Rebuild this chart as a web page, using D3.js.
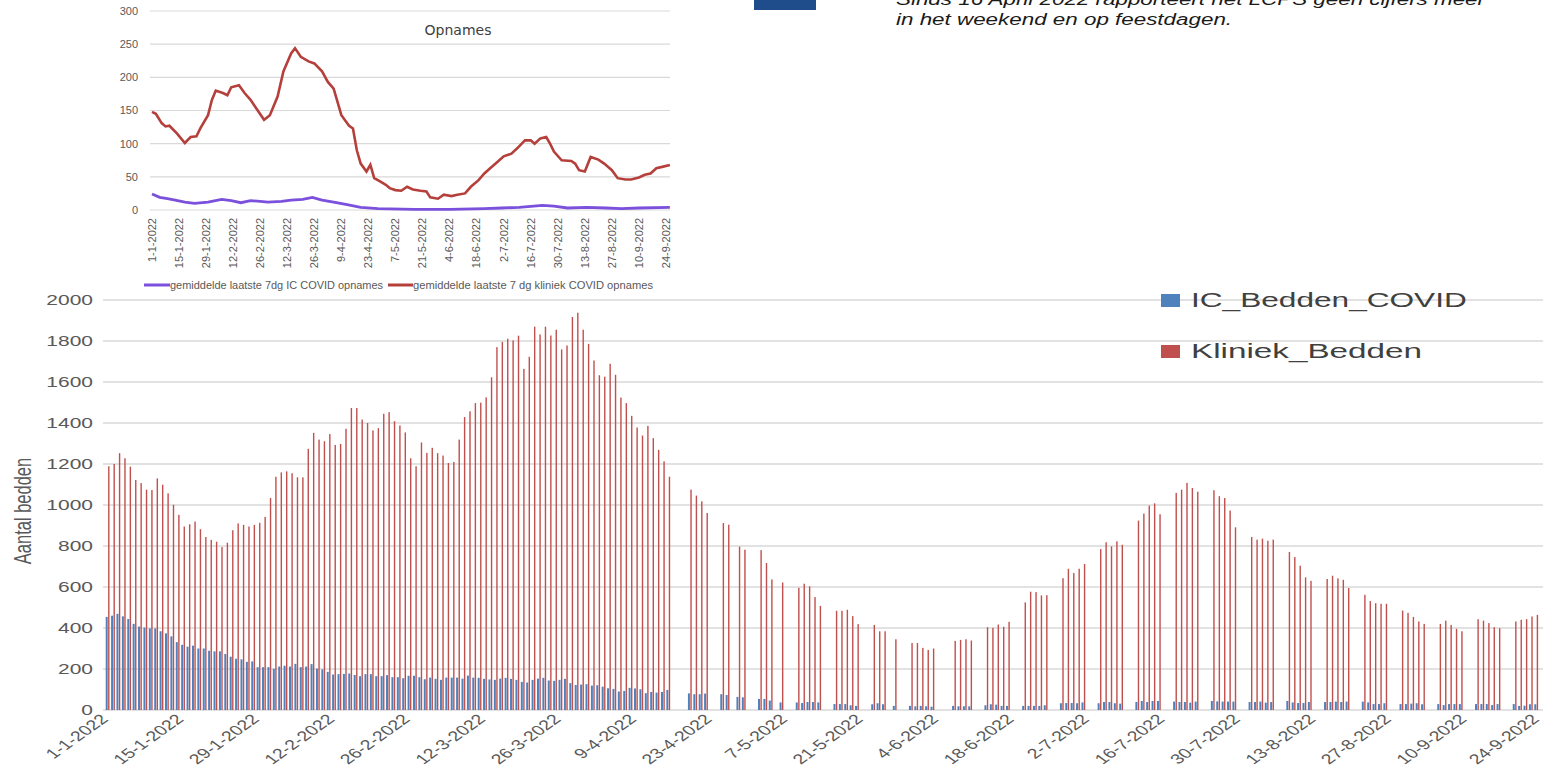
<!DOCTYPE html>
<html>
<head>
<meta charset="utf-8">
<script src="https://cdn.jsdelivr.net/npm/d3@7"></script>
<style>
  body { margin: 0; background: #fff; }
  svg text { font-family: "Liberation Sans", Arial, sans-serif; }
</style>
</head>
<body>
<div id="chart"></div>
<script>
(function () {

// ---------- data ----------
// date axis labels (both charts)
const tickLabels = ["1-1-2022","15-1-2022","29-1-2022","12-2-2022","26-2-2022","12-3-2022","26-3-2022",
  "9-4-2022","23-4-2022","7-5-2022","21-5-2022","4-6-2022","18-6-2022","2-7-2022","16-7-2022",
  "30-7-2022","13-8-2022","27-8-2022","10-9-2022","24-9-2022"];

// beds, one value per day from 1-1-2022, rows are weeks Sat..Fri (null = no report)
const kliniekBedden = [
  1189,1200,1253,1228,1187,1122,1107,
  1075,1073,1130,1099,1057,1001,952,
  895,906,919,882,844,830,821,
  795,816,877,910,903,895,903,
  913,942,1034,1138,1159,1164,1155,
  1135,1135,1274,1352,1319,1311,1346,
  1293,1298,1372,1473,1473,1417,1400,
  1364,1375,1445,1453,1409,1388,1354,
  1228,1189,1305,1254,1279,1253,1241,
  1205,1210,1319,1429,1457,1497,1499,
  1525,1623,1770,1796,1811,1803,1826,
  1664,1723,1870,1832,1870,1827,1855,
  1759,1778,1917,1938,1855,1786,1705,
  1633,1626,1689,1635,1524,1497,1435,
  1378,1339,1386,1326,1269,1213,1138,
  null,null,null,1075,1046,1018,961,
  null,null,912,904,null,797,782,
  null,null,780,717,637,null,622,
  null,null,596,616,603,551,508,
  null,null,484,484,489,458,419,
  null,null,415,384,384,null,345,
  null,null,327,327,303,293,300,
  null,null,null,337,342,345,339,
  null,null,404,401,417,406,430,
  null,null,525,577,575,559,560,
  null,null,643,689,668,689,712,
  null,null,785,818,798,823,806,
  null,null,924,958,997,1008,955,
  null,null,1059,1075,1108,1083,1065,
  null,null,1072,1043,1034,973,891,
  null,null,844,831,836,826,831,
  null,null,771,746,704,647,630,
  null,null,639,655,642,635,595,
  null,null,562,531,521,518,518,
  null,null,485,474,454,432,420,
  null,null,420,436,415,396,384,
  null,null,443,436,424,404,399,
  null,null,432,440,443,456,464
];

const icBedden = [
  454,460,469,457,444,420,407,
  402,398,398,384,374,359,331,
  318,309,314,300,300,289,286,
  286,273,260,250,247,235,237,
  209,209,209,201,212,216,212,
  225,209,212,224,202,198,186,
  173,175,176,178,171,165,175,
  175,165,165,170,160,160,155,
  167,167,160,150,158,152,147,
  158,158,158,153,168,158,157,
  152,149,147,153,157,152,147,
  137,134,147,153,157,144,142,
  147,152,131,122,124,126,119,
  121,114,106,103,90,93,108,
  105,101,82,88,85,88,98,
  null,null,null,81,77,77,80,
  null,null,77,73,null,64,62,
  null,null,54,54,46,null,37,
  null,null,37,34,39,39,37,
  null,null,29,29,29,23,20,
  null,null,28,33,28,null,20,
  null,null,20,18,20,18,16,
  null,null,null,20,18,18,18,
  null,null,23,28,26,20,20,
  null,null,20,20,20,20,23,
  null,null,33,34,34,33,37,
  null,null,33,39,39,33,31,
  null,null,39,44,39,44,44,
  null,null,41,39,39,36,41,
  null,null,44,42,41,41,41,
  null,null,39,39,41,36,39,
  null,null,44,37,34,34,39,
  null,null,39,39,41,39,41,
  null,null,41,37,29,29,33,
  null,null,29,29,31,33,28,
  null,null,29,24,29,29,29,
  null,null,29,29,29,24,29,
  null,null,29,20,21,28,28
];

// inset "Opnames": 7-day averages, read at irregular dates
const kliniekDates = ["2022-01-01","2022-01-03","2022-01-06","2022-01-08","2022-01-10","2022-01-14","2022-01-18",
  "2022-01-21","2022-01-24","2022-01-26","2022-01-30","2022-02-01","2022-02-03","2022-02-07","2022-02-09",
  "2022-02-11","2022-02-15","2022-02-18","2022-02-21","2022-02-24","2022-02-28","2022-03-03","2022-03-07",
  "2022-03-10","2022-03-14","2022-03-16","2022-03-19","2022-03-23","2022-03-26","2022-03-30","2022-04-02",
  "2022-04-05","2022-04-07","2022-04-09","2022-04-13","2022-04-15","2022-04-17","2022-04-19","2022-04-22",
  "2022-04-24","2022-04-26","2022-04-29","2022-05-02","2022-05-04","2022-05-07","2022-05-10","2022-05-13",
  "2022-05-16","2022-05-20","2022-05-23","2022-05-25","2022-05-29","2022-06-01","2022-06-05","2022-06-08",
  "2022-06-12","2022-06-15","2022-06-19","2022-06-22","2022-06-25","2022-06-29","2022-07-02","2022-07-06",
  "2022-07-09","2022-07-13","2022-07-16","2022-07-18","2022-07-21","2022-07-24","2022-07-26","2022-07-28",
  "2022-08-01","2022-08-06","2022-08-08","2022-08-10","2022-08-13","2022-08-16","2022-08-20","2022-08-23",
  "2022-08-27","2022-08-30","2022-09-03","2022-09-06","2022-09-10","2022-09-13","2022-09-16","2022-09-19",
  "2022-09-22","2022-09-26"];
const kliniekOpnames = [148,145,131,126,127,115,101,110,111,123,143,166,180,176,173,185,188,176,166,153,
  136,143,171,209,236,244,231,224,221,209,193,183,163,143,127,123,90,70,58,68,48,43,38,33,30,29,35,31,
  29,28,19,17,23,21,23,25,35,45,55,63,73,81,85,93,105,105,100,108,110,100,88,75,74,70,60,58,80,76,70,
  60,48,46,46,49,53,55,63,65,68];

const icDates = ["2022-01-01","2022-01-05","2022-01-09","2022-01-13","2022-01-18","2022-01-23","2022-01-30",
  "2022-02-06","2022-02-11","2022-02-16","2022-02-21","2022-02-26","2022-03-02","2022-03-09","2022-03-14",
  "2022-03-20","2022-03-25","2022-03-30","2022-04-05","2022-04-12","2022-04-19","2022-04-28","2022-05-17",
  "2022-06-04","2022-06-22","2022-07-01","2022-07-10","2022-07-22","2022-07-28","2022-08-04","2022-08-14",
  "2022-08-24","2022-09-01","2022-09-10","2022-09-26"];
const icOpnames = [24,19,17,15,12,10,12,16,14,11,14,13,12,13,15,16,19,15,12,8,4,2,1,1,2,3,4,7,6,3,4,3,2,3,4];

// ---------- setup ----------
const W = 1543, H = 768;
const svg = d3.select("#chart").append("svg")
    .attr("width", W)
    .attr("height", H);

const parseIso = d3.timeParse("%Y-%m-%d");
const parseLab = d3.timeParse("%-d-%-m-%Y");
const tickDates = tickLabels.map(parseLab);
const grey = "#595959";
const grid = "#d9d9d9";
const sx = 1.4; // the picture is stretched sideways

// ---------- top note (cut off at the top in the original) ----------
svg.append("rect")
  .attr("x", 754).attr("y", -2).attr("width", 62).attr("height", 12)
  .attr("fill", "#1f4c8a");

const note = svg.append("g")
  .style("font-family", "'DejaVu Sans', sans-serif")
  .style("font-style", "italic")
  .attr("font-size", 16)
  .attr("fill", "#1a1a1a");
note.append("text").attr("transform", "translate(896,5) scale(" + sx + ",1)")
  .text("Sinds 16 April 2022 rapporteert het LCPS geen cijfers meer");
note.append("text").attr("transform", "translate(896,25) scale(" + sx + ",1)")
  .text("in het weekend en op feestdagen.");

// ---------- inset: Opnames ----------
const xi = d3.scaleTime().domain([tickDates[0], tickDates[tickDates.length - 1]]).range([152, 666]);
const yi = d3.scaleLinear().domain([0, 300]).range([210, 11]);

const inset = svg.append("g");
inset.selectAll(".igrid")
  .data(d3.range(0, 301, 50))
  .join("line")
  .attr("x1", 150).attr("x2", 670)
  .attr("y1", d => yi(d)).attr("y2", d => yi(d))
  .attr("stroke", grid).attr("stroke-width", 1.2);

inset.selectAll(".ylab")
  .data(d3.range(0, 301, 50))
  .join("text")
  .attr("x", 138).attr("y", d => yi(d)).attr("dy", "0.35em")
  .attr("text-anchor", "end").attr("font-size", 11).attr("fill", grey)
  .text(d => d);

inset.selectAll(".xlab")
  .data(tickDates)
  .join("text")
  .attr("transform", d => "translate(" + xi(d) + ",218) rotate(-90)")
  .attr("dy", "0.35em")
  .attr("text-anchor", "end").attr("font-size", 11).attr("fill", grey)
  .text((d, i) => tickLabels[i]);

inset.append("text")
  .attr("x", 458).attr("y", 35)
  .attr("text-anchor", "middle").attr("font-size", 14).attr("fill", "#404040")
  .style("font-family", "'DejaVu Sans', sans-serif")
  .text("Opnames");

const lineGen = d3.line().x(d => xi(d[0])).y(d => yi(d[1]));
const icPts = icDates.map((d, i) => [parseIso(d), icOpnames[i]]);
const klPts = kliniekDates.map((d, i) => [parseIso(d), kliniekOpnames[i]]);
inset.append("path").attr("d", lineGen(icPts))
  .attr("fill", "none").attr("stroke", "#7a50dc").attr("stroke-width", 2.8);
inset.append("path").attr("d", lineGen(klPts))
  .attr("fill", "none").attr("stroke", "#b5403b").attr("stroke-width", 2.6);

// inset legend
inset.append("line").attr("x1", 144).attr("x2", 170).attr("y1", 285).attr("y2", 285)
  .attr("stroke", "#7a50dc").attr("stroke-width", 3);
inset.append("text").attr("x", 170).attr("y", 289)
  .attr("font-size", 11.5).attr("fill", grey)
  .attr("textLength", 213).attr("lengthAdjust", "spacingAndGlyphs")
  .text("gemiddelde laatste 7dg IC COVID opnames");
inset.append("line").attr("x1", 388).attr("x2", 413).attr("y1", 285).attr("y2", 285)
  .attr("stroke", "#b5403b").attr("stroke-width", 3);
inset.append("text").attr("x", 413).attr("y", 289)
  .attr("font-size", 11.5).attr("fill", grey)
  .attr("textLength", 240).attr("lengthAdjust", "spacingAndGlyphs")
  .text("gemiddelde laatste 7 dg kliniek COVID opnames");

// ---------- main chart: beds ----------
const days = d3.timeDay.range(tickDates[0], tickDates[tickDates.length - 1]);
const x = d3.scaleTime().domain([tickDates[0], tickDates[tickDates.length - 1]]).range([108, 1542]);
const y = d3.scaleLinear().domain([0, 2000]).range([710, 300]);

const main = svg.append("g");
main.selectAll(".grid")
  .data(y.ticks(10))
  .join("line")
  .attr("x1", 103).attr("x2", W)
  .attr("y1", d => y(d)).attr("y2", d => y(d))
  .attr("stroke", grid).attr("stroke-width", 1.4);

main.selectAll(".ylab")
  .data(y.ticks(10))
  .join("text")
  .attr("transform", d => "translate(93," + y(d) + ") scale(" + sx + ",1)")
  .attr("dy", "0.35em").attr("text-anchor", "end")
  .attr("font-size", 15).attr("fill", grey)
  .text(d => d);

main.append("text")
  .attr("transform", "translate(23,511) scale(" + sx + ",1) rotate(-90)")
  .attr("dy", "0.35em").attr("text-anchor", "middle")
  .attr("font-size", 16.5).attr("fill", grey)
  .text("Aantal bedden");

// last label sits against the right edge, nudge it in a little
main.selectAll(".xlab")
  .data(tickDates)
  .join("text")
  .attr("transform", (d, i) => "translate(" + (x(d) - (i === tickDates.length - 1 ? 6 : 3)) + ",717) scale(" + sx + ",1) rotate(-45)")
  .attr("dy", "0.3em").attr("text-anchor", "end")
  .attr("font-size", 14).attr("fill", grey)
  .text((d, i) => tickLabels[i]);

const bars = days.map((d, i) => ({date: d, ic: icBedden[i], kl: kliniekBedden[i]}));

main.selectAll(".ic")
  .data(bars.filter(d => d.ic != null))
  .join("rect")
  .attr("x", d => x(d.date) - 2.3).attr("width", 2)
  .attr("y", d => y(d.ic)).attr("height", d => y(0) - y(d.ic))
  .attr("fill", "#4f81bd");

main.selectAll(".kl")
  .data(bars.filter(d => d.kl != null))
  .join("rect")
  .attr("x", d => x(d.date) + 0.1).attr("width", 1.4)
  .attr("y", d => y(d.kl)).attr("height", d => y(0) - y(d.kl))
  .attr("fill", "#c0504d");

// legend
const legend = [["IC_Bedden_COVID", "#4f81bd", 307, 197], ["Kliniek_Bedden", "#c0504d", 358, 165]];
legend.forEach(function (l) {
  main.append("rect").attr("x", 1161).attr("y", l[2] - 13).attr("width", 19).attr("height", 13)
    .attr("fill", l[1]);
  main.append("text")
    .attr("transform", "translate(1191," + l[2] + ") scale(" + sx + ",1)")
    .attr("font-size", 20).attr("fill", "#404040")
    .attr("textLength", l[3]).attr("lengthAdjust", "spacingAndGlyphs")
    .text(l[0]);
});

})();
</script>
</body>
</html>
